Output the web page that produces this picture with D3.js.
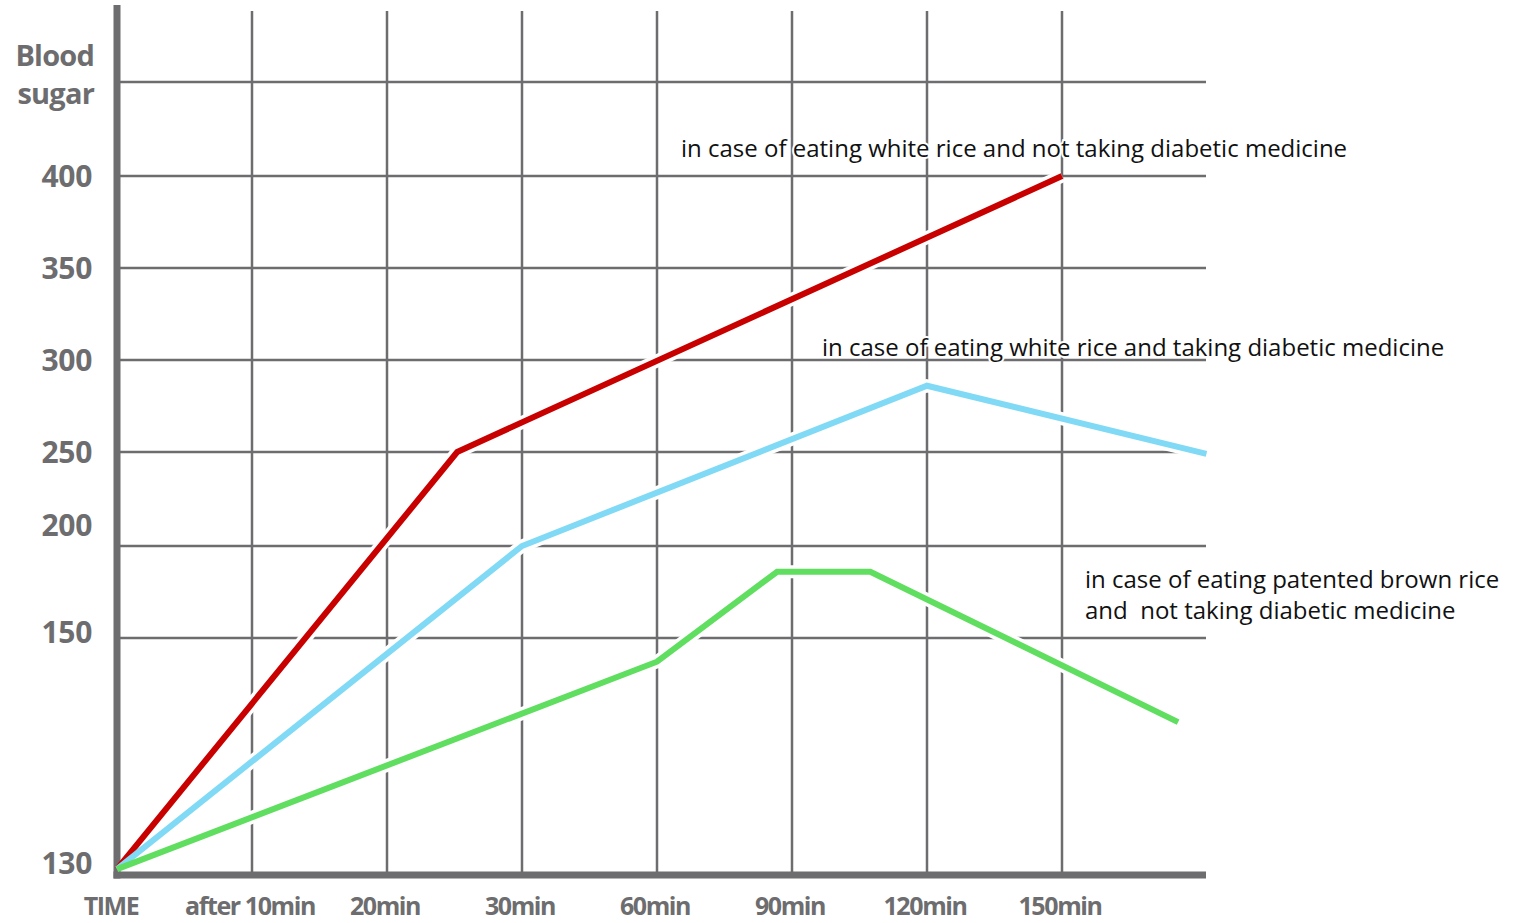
<!DOCTYPE html>
<html><head><meta charset="utf-8">
<script src="https://cdn.jsdelivr.net/npm/d3@7"></script>
<style>
html,body{margin:0;padding:0;background:#fff;}
svg{display:block;}
</style></head>
<body>
<script>
// ---- data ----
const categories = ["TIME","after 10min","20min","30min","60min","90min","120min","150min"];
const yTicks = [130,150,200,250,300,350,400];
const yGrid = [150,200,250,300,350,400,450];
// x given in category-index units (fractional = between ticks)
const redX   = [0, 2.52, 7];
const redY   = [130.5, 250, 400];
const blueX  = [0, 3, 6, 8.07];
const blueY  = [130.5, 200, 286, 249];
const greenX = [0, 4, 4.89, 5.58, 7.86];
const greenY = [130.5, 148, 186, 186, 142.9];
const labels = [
  "in case of eating white rice and not taking diabetic medicine",
  "in case of eating white rice and taking diabetic medicine",
  "in case of eating patented brown rice",
  "and  not taking diabetic medicine"
];

const W = 1529, H = 923;
const svg = d3.select("body").append("svg").attr("width", W).attr("height", H);

const x = d3.scaleLinear().domain([0, 7]).range([117, 1062]);
// piecewise (non-uniform) blood sugar axis
const y = d3.scaleLinear()
  .domain([130,150,200,250,300,350,400,450])
  .range([875,638,546,452,360,268,176,82]);

const gridC = "#6d6d6f";
const g = svg.append("g");

// horizontal grid
g.selectAll("line.hg").data(yGrid).join("line")
  .attr("x1", x(0)).attr("x2", 1206)
  .attr("y1", d => y(d)).attr("y2", d => y(d))
  .attr("stroke", gridC).attr("stroke-width", 2.5);
// vertical grid
g.selectAll("line.vg").data(d3.range(1, categories.length)).join("line")
  .attr("x1", d => x(d)).attr("x2", d => x(d))
  .attr("y1", 11).attr("y2", y(130))
  .attr("stroke", gridC).attr("stroke-width", 2.5);

const series = [
  {xs: redX, ys: redY, c: "#c80000"},
  {xs: blueX, ys: blueY, c: "#80d9f5"},
  {xs: greenX, ys: greenY, c: "#5fde60"}
];
const line = d3.line().x(d => x(d[0])).y(d => y(d[1]));
series.forEach(s => {
  svg.append("path").datum(d3.zip(s.xs, s.ys)).attr("d", line)
    .attr("fill", "none").attr("stroke", "#fff").attr("stroke-width", 13)
    .attr("stroke-linejoin", "miter");
});
// axes
svg.append("line").attr("x1", x(0)).attr("x2", x(0)).attr("y1", 5).attr("y2", y(130) + 3.5)
  .attr("stroke", gridC).attr("stroke-width", 7);
svg.append("line").attr("x1", x(0) - 3.5).attr("x2", 1206).attr("y1", y(130)).attr("y2", y(130))
  .attr("stroke", gridC).attr("stroke-width", 7);

series.forEach(s => {
  svg.append("path").datum(d3.zip(s.xs, s.ys)).attr("d", line)
    .attr("fill", "none").attr("stroke", s.c).attr("stroke-width", 6)
    .attr("stroke-linejoin", "miter");
});

const axisFont = "'Open Sans', 'Noto Sans', sans-serif";
// y tick labels
const labelDy = {130: -12, 150: -6, 200: -21};
svg.selectAll("text.yl").data(yTicks).join("text")
  .attr("x", 92).attr("y", d => y(d) + 11 + (labelDy[d] || 0))
  .attr("text-anchor", "end")
  .attr("font-family", axisFont).attr("font-weight", 700)
  .attr("font-size", 30).attr("letter-spacing", -0.3)
  .attr("fill", gridC).text(d => d);

// y title
svg.append("text").attr("x", 94).attr("y", 66).attr("text-anchor", "end")
  .attr("font-family", axisFont).attr("font-weight", 700)
  .attr("font-size", 29).attr("letter-spacing", -0.8).attr("fill", gridC).text("Blood");
svg.append("text").attr("x", 94).attr("y", 104).attr("text-anchor", "end")
  .attr("font-family", axisFont).attr("font-weight", 700)
  .attr("font-size", 29).attr("letter-spacing", -0.8).attr("fill", gridC).text("sugar");

// x labels
svg.selectAll("text.xl").data(categories).join("text")
  .attr("x", (d, i) => x(i) - (i === 0 ? 6 : 2)).attr("y", 915)
  .attr("text-anchor", "middle")
  .attr("font-family", axisFont).attr("font-weight", 700)
  .attr("font-size", 25).attr("letter-spacing", -1.4)
  .attr("fill", gridC).text(d => d);

// annotations
const ann = [
  {t: labels[0], x: 681, y: 157},
  {t: labels[1], x: 822, y: 356},
  {t: labels[2], x: 1085, y: 588},
  {t: labels[3], x: 1085, y: 619}
];
svg.selectAll("text.ann").data(ann).join("text")
  .attr("x", d => d.x).attr("y", d => d.y)
  .attr("font-family", "'Open Sans', sans-serif").attr("font-size", 24)
  .attr("letter-spacing", 0)
  .attr("fill", "#111").attr("stroke", "#fff").attr("stroke-width", 4)
  .attr("paint-order", "stroke").style("white-space", "pre")
  .text(d => d.t);
</script>
</body></html>
